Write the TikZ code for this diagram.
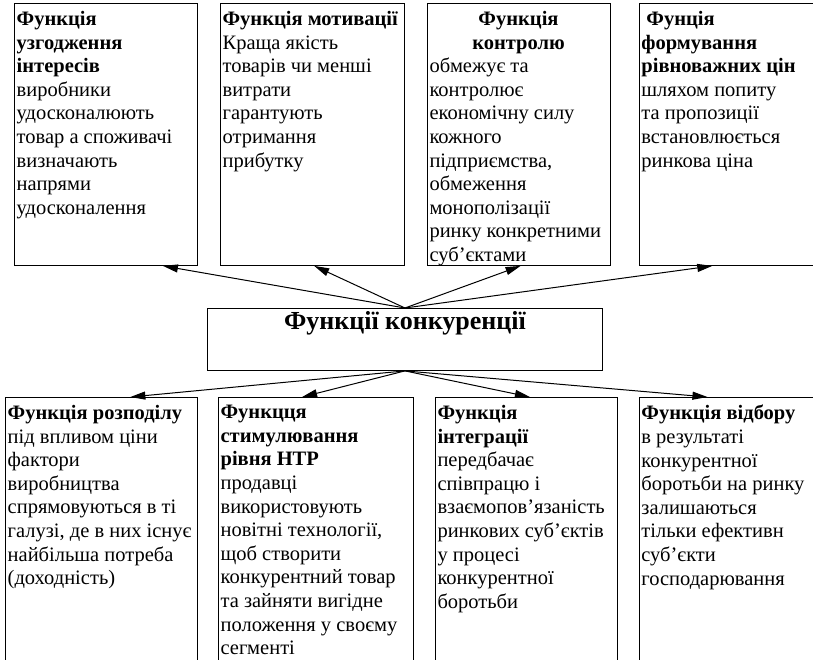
\documentclass[tikz,border=0pt]{standalone}
\usepackage{fontspec}
\setmainfont{Liberation Serif}
\usepackage{tikz}
\usetikzlibrary{arrows.meta,positioning,calc}

\newcommand{\hd}[1]{\textbf{#1}}

\tikzset{
  funcbox/.style={draw,line width=0.9pt,anchor=north west,inner sep=0pt,minimum height=262pt},
  lowbox/.style={funcbox,minimum height=290pt},
  functext/.style={anchor=north west,align=left,inner xsep=2.5pt,inner ysep=0pt,yshift=-8pt,
    font=\fontsize{20.5}{23.6}\selectfont},
  corebox/.style={draw,line width=0.9pt,anchor=north west,inner sep=0pt,
    minimum width=395pt,text height=21pt,text depth=41pt,
    font=\fontsize{26}{30}\selectfont\bfseries},
}

\begin{document}
\begin{tikzpicture}[x=1pt,y=-1pt,>={Triangle[length=15pt,width=8pt]}]
  \useasboundingbox (0,0) rectangle (813,660);
  \clip (0,0) rectangle (813,660);

  % upper row
  \node[funcbox,minimum width=183pt] (up1) at (14,3) {};
  \node[funcbox,minimum width=184pt,right=22pt of up1] (up2) {};
  \node[funcbox,minimum width=183pt,right=22pt of up2] (up3) {};
  \node[funcbox,minimum width=183pt,right=28pt of up3] (up4) {};

  \node[functext] (t1) at (up1.north west)
    {\hd{Функція}\\ \hd{узгодження}\\ \hd{інтересів}\\ виробники\\ удосконалюють\\
     товар а споживачі\\ визначають\\ напрями\\ удосконалення};
  \node[functext] (t2) at (up2.north west)
    {\hd{Функція мотивації}\\ Краща якість\\ товарів чи менші\\ витрати\\ гарантують\\
     отримання\\ прибутку};
  \node[functext] (t3) at (up3.north west)
    {\makebox[178pt]{\hd{Функція}}\\ \makebox[178pt]{\hd{контролю}}\\ обмежує та\\
     контролює\\ економічну силу\\ кожного\\ підприємства,\\ обмеження\\
     монополізації\\ ринку конкретними\\ суб’єктами};
  \node[functext] (t4) at (up4.north west)
    {\hspace{5pt}\hd{Фунція}\\ \hd{формування}\\ \hd{рівноважних цін}\\ шляхом попиту\\
     та пропозиції\\ встановлюється\\ ринкова ціна};

  % centre
  \node[corebox] (core) at (207,308) {Функції конкуренції};

  % lower row
  \node[lowbox,minimum width=192pt] (lo1) at (5,397) {};
  \node[lowbox,minimum width=195pt,right=20pt of lo1] (lo2) {};
  \node[lowbox,minimum width=182pt,right=21pt of lo2] (lo3) {};
  \node[lowbox,minimum width=190pt,right=21pt of lo3] (lo4) {};

  \node[functext] (t5) at (lo1.north west)
    {\hd{Функція розподілу}\\ під впливом ціни\\ фактори\\ виробництва\\
     спрямовуються в ті\\ галузі, де в них існує\\ найбільша потреба\\ (доходність)};
  \node[functext] (t6) at (lo2.north west)
    {\hd{Функцця}\\ \hd{стимулювання}\\ \hd{рівня НТР}\\ продавці\\ використовують\\
     новітні технології,\\ щоб створити\\ конкурентний товар\\ та зайняти вигідне\\
     положення у своєму\\ сегменті};
  \node[functext] (t7) at (lo3.north west)
    {\hd{Функція}\\ \hd{інтеграції}\\ передбачає\\ співпрацю і\\ взаємопов’язаність\\
     ринкових суб’єктів\\ у процесі\\ конкурентної\\ боротьби};
  \node[functext] (t8) at (lo4.north west)
    {\hd{Функція відбору}\\ в результаті\\ конкурентної\\ боротьби на ринку\\
     залишаються\\ тільки ефективн\\ суб’єкти\\ господарювання};

  \foreach \b/\f in {up1/0.81,up2/0.51,up3/0.51,up4/0.40}
    \draw[->,line width=1pt] (core.north) -- ($(\b.south west)!\f!(\b.south east)$);
  \foreach \b/\f in {lo1/0.65,lo2/0.43,lo3/0.52,lo4/0.36}
    \draw[->,line width=1pt] (core.south) -- ($(\b.north west)!\f!(\b.north east)$);
\end{tikzpicture}
\end{document}
